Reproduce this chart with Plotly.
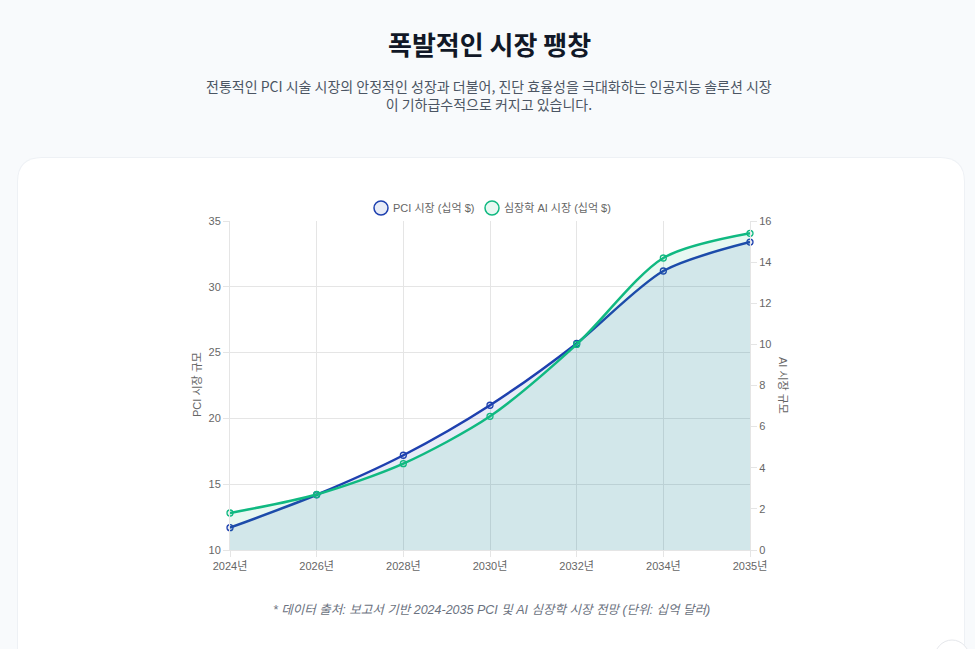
import plotly.graph_objects as go

# data
years = ["2024년", "2026년", "2028년", "2030년", "2032년", "2034년", "2035년"]
pci_market = [11.7, 14.2, 17.2, 21.0, 25.7, 31.2, 33.4]
ai_market = [1.8, 2.7, 4.2, 6.5, 10.0, 14.2, 15.4]

pci_name = "PCI 시장 (십억 $)"
ai_name = "심장학 AI 시장 (십억 $)"

BLUE = "#1e40af"
GREEN = "#10b981"
BLUE_FILL = "rgba(30,64,175,0.1)"
GREEN_FILL = "rgba(16,185,129,0.1)"
FONT = "Noto Sans CJK KR"
CHART_FONT = "Liberation Sans, Noto Sans CJK KR"

# plot area in pixels
L, R, T, B = 230, 750, 221, 550
W, H = R - L, B - T


def px(x):
    return (x - L) / W


def py(y):
    return (B - y) / H


fig = go.Figure()

fig.add_trace(go.Scatter(
    x=years, y=pci_market, name=pci_name,
    mode="lines+markers",
    line=dict(color=BLUE, width=2.5, shape="spline", smoothing=0.8),
    marker=dict(size=6, color=BLUE_FILL, line=dict(color=BLUE, width=1.3)),
    fill="tozeroy", fillcolor=BLUE_FILL,
    showlegend=False, cliponaxis=False,
))

fig.add_trace(go.Scatter(
    x=years, y=ai_market, name=ai_name, yaxis="y2",
    mode="lines+markers",
    line=dict(color=GREEN, width=2.5, shape="spline", smoothing=0.8),
    marker=dict(size=6, color=GREEN_FILL, line=dict(color=GREEN, width=1.3)),
    fill="tozeroy", fillcolor=GREEN_FILL,
    showlegend=False, cliponaxis=False,
))

# white card with rounded corners
cx0, cx1, cy0, cy1 = px(18), px(964), py(700), py(158)
rx, ry = 24 / W, 24 / H
card = (f"M {cx0 + rx},{cy1} L {cx1 - rx},{cy1} Q {cx1},{cy1} {cx1},{cy1 - ry} "
        f"L {cx1},{cy0} L {cx0},{cy0} L {cx0},{cy1 - ry} Q {cx0},{cy1} {cx0 + rx},{cy1} Z")
shadow = (f"M {cx0 + rx},{cy1 + 1 / H} L {cx1 - rx},{cy1 + 1 / H} "
          f"Q {cx1 + 1 / W},{cy1 + 1 / H} {cx1 + 1 / W},{cy1 - ry} "
          f"L {cx1 + 1 / W},{cy0} L {cx0 - 1 / W},{cy0} L {cx0 - 1 / W},{cy1 - ry} "
          f"Q {cx0 - 1 / W},{cy1 + 1 / H} {cx0 + rx},{cy1 + 1 / H} Z")

shapes = [
    dict(type="path", path=shadow, xref="paper", yref="paper", layer="below",
         fillcolor="#eef1f5", line=dict(width=0)),
    dict(type="path", path=card, xref="paper", yref="paper", layer="below",
         fillcolor="white", line=dict(width=0)),
    # round button at bottom right corner
    dict(type="circle", xref="paper", yref="paper", layer="above",
         x0=px(934), x1=px(970), y0=py(680), y1=py(640),
         fillcolor="white", line=dict(color="#e5e7eb", width=1)),
]

# legend as circles + labels
legend_items = [(381, BLUE, BLUE_FILL, pci_name), (492, GREEN, GREEN_FILL, ai_name)]
annotations = []
r_leg = 7
for lx, lc, fc, label in legend_items:
    shapes.append(dict(type="circle", xref="paper", yref="paper", layer="above",
                       x0=px(lx - r_leg), x1=px(lx + r_leg),
                       y0=py(208 + r_leg), y1=py(208 - r_leg),
                       fillcolor=fc, line=dict(color=lc, width=1.5)))
    annotations.append(dict(text=label, xref="paper", yref="paper",
                            x=px(lx + r_leg + 3), y=py(208), xanchor="left", yanchor="middle",
                            showarrow=False, font=dict(family=CHART_FONT, size=11, color="#666666")))

annotations += [
    dict(text="<b>폭발적인 시장 팽창</b>", xref="paper", yref="paper",
         x=px(489), y=py(43), xanchor="center", yanchor="middle", showarrow=False,
         font=dict(family=FONT, size=26, color="#111827")),
    dict(text="전통적인 PCI 시술 시장의 안정적인 성장과 더불어, 진단 효율성을 극대화하는 인공지능 솔루션 시장"
              "<br>이 기하급수적으로 커지고 있습니다.",
         xref="paper", yref="paper", x=px(489), y=py(95), xanchor="center", yanchor="middle",
         showarrow=False, align="center",
         font=dict(family=FONT, size=14, color="#4b5563")),
    dict(text="<i>* 데이터 출처: 보고서 기반 2024-2035 PCI 및 AI 심장학 시장 전망 (단위: 십억 달러)</i>",
         xref="paper", yref="paper", x=px(491), y=py(610), xanchor="center", yanchor="middle",
         showarrow=False, font=dict(family=CHART_FONT, size=12.5, color="#6b7280")),
    dict(text="PCI 시장 규모", xref="paper", yref="paper", x=px(197), y=py(385),
         xanchor="center", yanchor="middle", textangle=-90, showarrow=False,
         font=dict(family=CHART_FONT, size=11, color="#666666")),
    dict(text="AI 시장 규모", xref="paper", yref="paper", x=px(783), y=py(385),
         xanchor="center", yanchor="middle", textangle=90, showarrow=False,
         font=dict(family=CHART_FONT, size=11, color="#666666")),
]

tick_font = dict(family=CHART_FONT, size=11, color="#666666")
GRID = "#e5e5e5"

fig.update_layout(
    width=975, height=649,
    margin=dict(l=L, r=975 - R, t=T, b=649 - B),
    paper_bgcolor="#f8fafc", plot_bgcolor="rgba(0,0,0,0)",
    showlegend=False,
    shapes=shapes, annotations=annotations,
    xaxis=dict(type="category", range=[0, len(years) - 1], showgrid=True, gridcolor=GRID,
               ticks="outside", ticklen=6, tickcolor=GRID, tickfont=tick_font,
               showline=True, linecolor=GRID, zeroline=False, fixedrange=True),
    yaxis=dict(range=[10, 35], dtick=5, showgrid=True, gridcolor=GRID,
               ticks="outside", ticklen=6, tickcolor=GRID, tickfont=tick_font,
               showline=True, linecolor=GRID, zeroline=False),
    yaxis2=dict(range=[0, 16], dtick=2, overlaying="y", side="right", showgrid=False,
                ticks="outside", ticklen=6, tickcolor=GRID, tickfont=tick_font,
                showline=True, linecolor=GRID, zeroline=False),
)

fig.write_html(
    "out.html",
    config={"displayModeBar": False},
    post_script="document.body.style.margin='0';document.body.style.background='#f8fafc';",
)
